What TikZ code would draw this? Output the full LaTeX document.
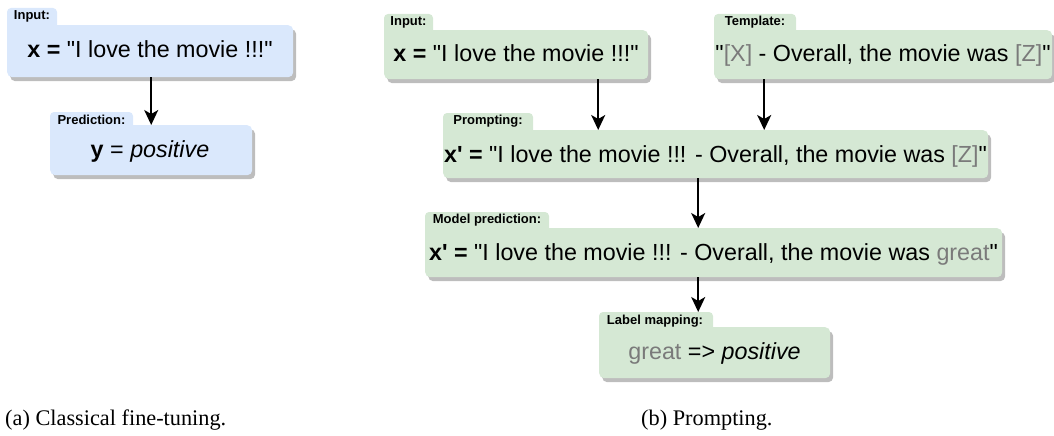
\documentclass[tikz,border=0pt]{standalone}
\usepackage{fontspec}
\setmainfont{Liberation Serif}
\newfontfamily\sansf{Liberation Sans}[Ligatures=TeXOff]
\usetikzlibrary{arrows.meta,shadows,calc}
\definecolor{bluefill}{HTML}{DAE8FC}
\definecolor{greenfill}{HTML}{D5E8D4}
\definecolor{shadowc}{HTML}{BDBDBD}
\definecolor{graytext}{HTML}{7A7A7A}
\begin{document}
\begin{tikzpicture}[x=1pt,y=-1pt,
  body/.style={rectangle, rounded corners=5pt, inner sep=0pt, draw=none, anchor=north west,
    drop shadow={shadow xshift=3pt, shadow yshift=-4pt, fill=shadowc, opacity=1}},
  tabshape/.style={rounded corners=4pt},
  tablabel/.style={font=\sansf\bfseries\fontsize{13}{15}\selectfont, anchor=base, inner sep=0pt},
  maintext/.style={font=\sansf\fontsize{23.3}{28}\selectfont, anchor=base, inner sep=0pt},
  arr/.style={-{Stealth[length=15pt,width=14pt,inset=4pt]}, line width=1.7pt, black},
  captext/.style={font=\fontsize{22.3}{26}\selectfont, anchor=base west, inner sep=0pt},
]
\useasboundingbox (0,0) rectangle (1054,436);

% ---------- (a) classical fine-tuning ----------
\node[body, fill=bluefill, minimum width=286pt, minimum height=52pt] (inL) at (7,25) {};
\fill[bluefill, tabshape] (7,8) rectangle (57,37);
\node[body, fill=bluefill, minimum width=202pt, minimum height=50pt] (predL) at (50,125) {};
\fill[bluefill, tabshape] (50,112) rectangle (133,137);

\node[tablabel] (inLl) at (32,20) {Input:};
\node[maintext] (inLt) at (150,57) {\textbf{x =} "I love the movie !!!"};
\node[tablabel] (predLl) at (91.5,124) {Prediction:};
\node[maintext] (predLt) at (150,157) {\textbf{y} = \textit{positive}};

\draw[arr] (predL.north |- inL.south) -- (predL.north);

% ---------- (b) prompting ----------
\node[body, fill=greenfill, minimum width=264pt, minimum height=49pt] (inR) at (384,30) {};
\fill[greenfill, tabshape] (384,14) rectangle (433,42);
\node[body, fill=greenfill, minimum width=338pt, minimum height=49pt] (tpl) at (714,30) {};
\fill[greenfill, tabshape] (714,14) rectangle (796,42);
\node[body, fill=greenfill, minimum width=545pt, minimum height=48pt] (prm) at (443,130) {};
\fill[greenfill, tabshape] (443,113) rectangle (533,142);
\node[body, fill=greenfill, minimum width=577pt, minimum height=49pt] (mdl) at (425,228) {};
\fill[greenfill, tabshape] (425,212) rectangle (549,240);
\node[body, fill=greenfill, minimum width=231pt, minimum height=51pt] (lbl) at (599,327) {};
\fill[greenfill, tabshape] (599,312) rectangle (713,339);

\node[tablabel] (inRl) at (408.5,25.5) {Input:};
\node[maintext] (inRt) at (516,62) {\textbf{x =} "I love the movie !!!"};
\node[tablabel] (tpll) at (755,25.5) {Template:};
\node[maintext] (tplt) at (883,62) {"\textcolor{graytext}{[X]} - Overall, the movie was \textcolor{graytext}{[Z]}"};
\node[tablabel] (prml) at (488,124.5) {Prompting:};
\node[maintext] (prmt) at (715.5,162) {\textbf{x' =} "I love the movie !!! - Overall, the movie was \textcolor{graytext}{[Z]}"};
\node[tablabel] (mdll) at (487,223.5) {Model prediction:};
\node[maintext] (mdlt) at (713.5,260) {\textbf{x' =} "I love the movie !!! - Overall, the movie was \textcolor{graytext}{great}"};
\node[tablabel] (lbll) at (655,324.5) {Label mapping:};
\node[maintext] (lblt) at (714.5,359) {\textcolor{graytext}{great} => \textit{positive}};

\draw[arr] ([xshift=82pt]inR.south) -- ([xshift=82pt]inR.south |- prm.north);
\draw[arr] ([xshift=-119pt]tpl.south) -- ([xshift=-119pt]tpl.south |- prm.north);
\draw[arr] ([xshift=-17.5pt]prm.south) -- ([xshift=-17.5pt]prm.south |- mdl.north);
\draw[arr] ([xshift=-16.5pt]lbl.north |- mdl.south) -- ([xshift=-16.5pt,yshift=15pt]lbl.north);

% ---------- captions ----------
\node[captext] (capA) at (5,425) {(a) Classical fine-tuning.};
\node[captext] (capB) at (641,425) {(b) Prompting.};
\end{tikzpicture}
\end{document}
